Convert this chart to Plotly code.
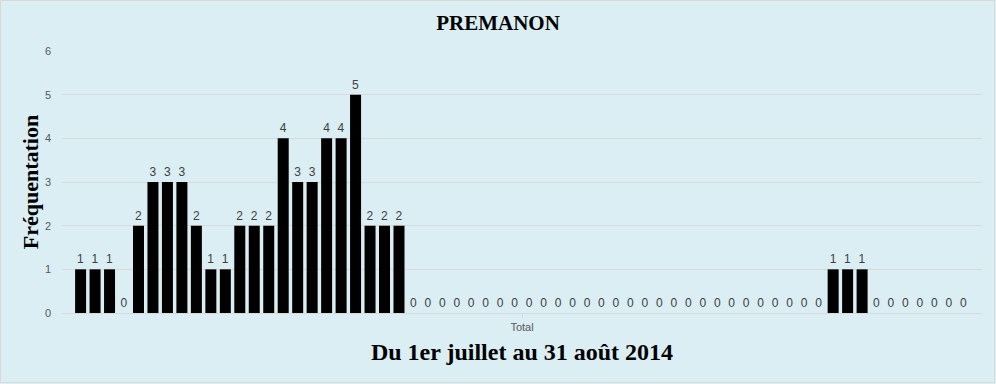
import plotly.graph_objects as go

title = "PREMANON"
x_title = "Du 1er juillet au 31 août 2014"
y_title = "Fréquentation"
category = "Total"

days = [f"{d} juillet" for d in range(1, 32)] + [f"{d} août" for d in range(1, 32)]
visits = [1, 1, 1, 0, 2, 3, 3, 3, 2, 1, 1, 2, 2, 2, 4, 3, 3, 4, 4, 5, 2, 2, 2,
          0, 0, 0, 0, 0, 0, 0, 0, 0, 0, 0, 0, 0, 0, 0, 0, 0, 0, 0, 0, 0, 0, 0, 0, 0, 0, 0, 0, 0,
          1, 1, 1,
          0, 0, 0, 0, 0, 0, 0]
y_ticks = [0, 1, 2, 3, 4, 5, 6]

BG = "#DAEEF3"
fig = go.Figure()
for day, v in zip(days, visits):
    fig.add_trace(go.Bar(
        x=[category], y=[v], name=day,
        marker=dict(color="#000000", line=dict(width=0)),
        text=[str(v)], textposition="outside",
        textfont=dict(family="Liberation Sans, Arial", size=12, color="#404040"),
        cliponaxis=False,
        showlegend=False,
    ))

W, H = 996, 384
L, R, T, B = 62, 14, 51, 71
fig.update_layout(
    width=W, height=H,
    margin=dict(l=L, r=R, t=T, b=B, pad=0),
    paper_bgcolor=BG, plot_bgcolor=BG,
    barmode="group", bargap=0.0247, bargroupgap=0.24,
    title=dict(text=f"<b>{title}</b>", x=0.5, xanchor="center", y=1 - 23 / H, yanchor="middle",
               font=dict(family="Liberation Serif, Times New Roman", size=21, color="#000000")),
    xaxis=dict(
        type="category", automargin=False,
        showgrid=False, showline=True, linecolor="#D9D9D9", linewidth=1,
        ticks="outside", ticklen=4, tickcolor="#D9D9D9",
        tickfont=dict(family="Liberation Sans, Arial", size=11, color="#595959"),
        title=dict(text=f"<b>{x_title}</b>", standoff=10,
                   font=dict(family="Liberation Serif, Times New Roman", size=24, color="#000000")),
    ),
    yaxis=dict(
        range=[0, 6], tickvals=y_ticks, automargin=False,
        showgrid=True, gridcolor="#D9D9D9", gridwidth=1,
        zeroline=False, showline=False,
        ticks="", ticklabelstandoff=10,
        tickfont=dict(family="Liberation Sans, Arial", size=11, color="#595959"),
        title=dict(text=f"<b>{y_title}</b>", standoff=0,
                   font=dict(family="Liberation Serif, Times New Roman", size=22, color="#000000")),
    ),
    shapes=[dict(type="rect", xref="paper", yref="paper",
                 x0=-(L - 0.5) / (W - L - R), x1=1 + (R - 1.5) / (W - L - R),
                 y0=-(B - 1.5) / (H - T - B), y1=1 + (T - 0.5) / (H - T - B),
                 line=dict(color="#D9D9D9", width=1), fillcolor="rgba(0,0,0,0)", layer="below")],
)
fig.write_html("out.html", config={"displayModeBar": False},
               post_script="document.body.style.margin='0';document.body.style.padding='0';")
